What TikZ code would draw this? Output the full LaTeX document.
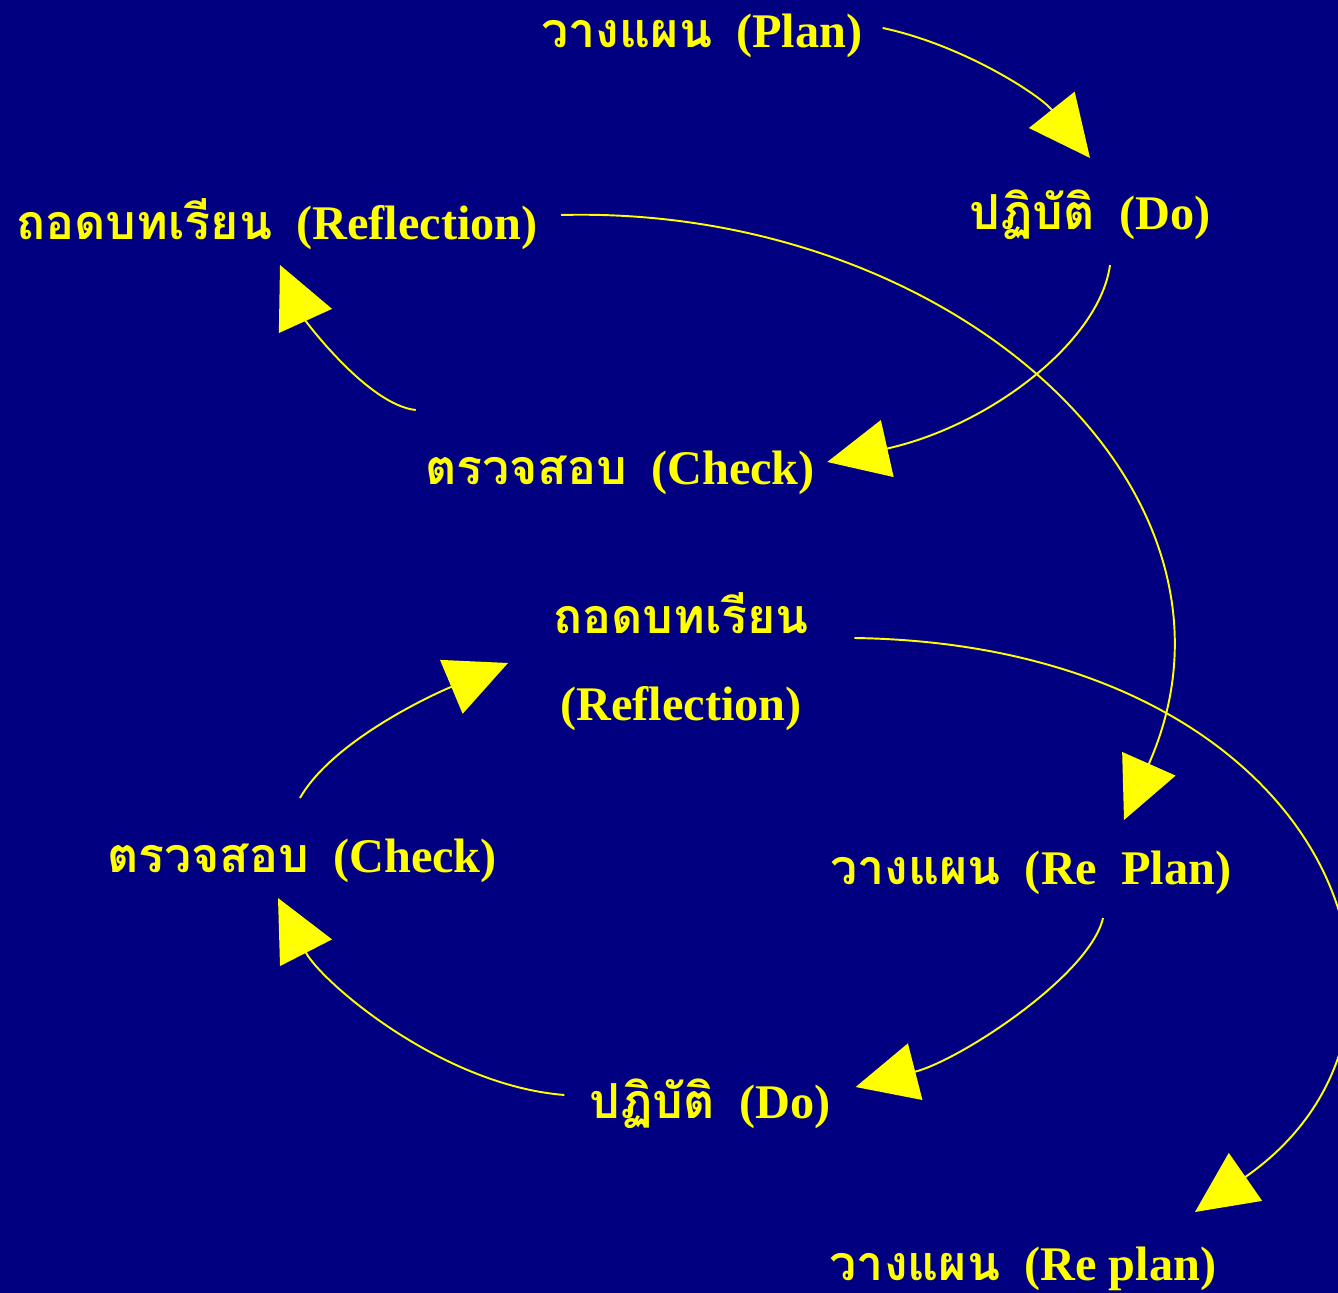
\documentclass[tikz,border=0pt]{standalone}
\usepackage{fontspec}
\setmainfont{Liberation Serif}
\newfontfamily\thaifont[Script=Thai]{Loma}
\usetikzlibrary{arrows.meta,calc}
\definecolor{slideNavy}{HTML}{000080}
\definecolor{slideInk}{HTML}{FFFF00}

\begin{document}
\begin{tikzpicture}[
    x=0.02cm, y=-0.02cm,
    % yellow bold captions on the navy slide
    lbl/.style={text=slideInk, font=\fontsize{27.5}{34}\selectfont\bfseries,
                inner sep=0pt, anchor=base},
    % thin yellow curve with a big flat triangle head
    flow/.style={-{Triangle[length=35pt, width=33pt]}, draw=slideInk, line width=1.1pt},
]

%================= slide background =================%
\path[use as bounding box, fill=slideNavy] (0,0) rectangle (1338,1293);

%================= first cycle =================%
\node[lbl] (plan)  at (702,48)  {{\thaifont วางแผน}~~(Plan)};
\node[lbl] (doA)   at (1090,230) {{\thaifont ปฏิบัติ}~~(Do)};
\node[lbl] (chkA)  at (620,485) {{\thaifont ตรวจสอบ}~~(Check)};
\node[lbl] (refA)  at (277,240) {{\thaifont ถอดบทเรียน}~~(Reflection)};

%================= second cycle =================%
\node[lbl, align=center] (refB) at (681,720) {{\thaifont ถอดบทเรียน}\\[15.5pt](Reflection)};
\node[lbl] (chkB)    at (302,872)  {{\thaifont ตรวจสอบ}~~(Check)};
\node[lbl] (replan)  at (1031,884) {{\thaifont วางแผน}~~(Re~~Plan)};
\node[lbl] (doB)     at (710,1118) {{\thaifont ปฏิบัติ}~~(Do)};
\node[lbl] (replanB) at (1023,1280) {{\thaifont วางแผน}~~(Re plan)};

%================= arrows of the first cycle =================%
\draw[flow] ($(plan.base east)+(20,-20)$) .. controls +(80,17) and +(-50,-63) .. ($(doA.base)+(0,-72)$);
\draw[flow] ($(doA.base)+(20,35)$) .. controls +(-10,75) and +(165,-37) .. ($(chkA.base east)+(12,-23)$);
\draw[flow] ($(chkA.base west)+(-9,-75)$) .. controls +(-48,-5) and +(25,55) .. ($(refA.base)+(3,25)$);

%================= reflection feeds the next plan =================%
\draw[flow] ($(refA.base east)+(23,-25)$) .. controls +(390,-10) and +(146,-330) .. ($(replan.base)+(93,-64)$);

%================= arrows of the second cycle =================%
\draw[flow] ($(replan.base)+(72,34)$) .. controls +(-13,57) and +(105,-27) .. ($(doB.base east)+(25,-31)$);
\draw[flow] ($(doB.base west)+(-25,-23)$) .. controls +(-125,-10) and +(42,82) .. ($(chkB.base)+(-24,26)$);
\draw[flow] ($(chkB.base)+(-2,-74)$) .. controls +(30,-53) and +(-88,37) .. ($(refB.base)+(-173,-57)$);
\draw[flow] ($(refB.base east)+(45,-82)$) .. controls +(475,7) and +(276,-192) .. ($(replanB.base)+(172,-68)$);

\end{tikzpicture}
\end{document}
